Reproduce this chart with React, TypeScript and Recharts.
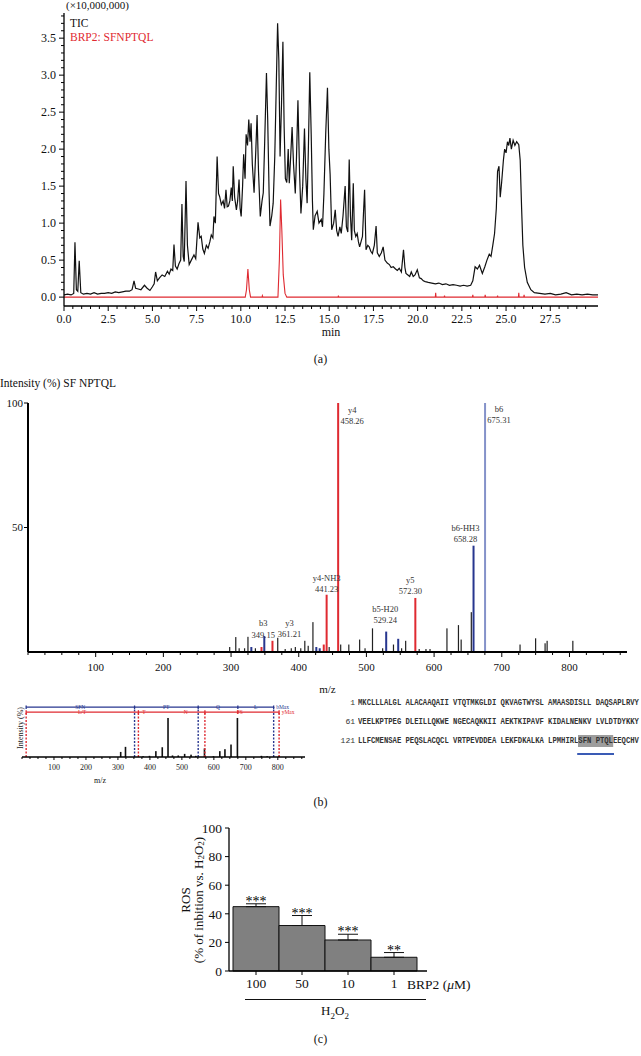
import React from "react"
import {
    LineChart,
    Line,
    XAxis,
    YAxis,
    ComposedChart,
    Bar,
    BarChart,
    ErrorBar,
    LabelList,
    ReferenceLine,
    ReferenceDot,
} from "recharts"

const SERIF = '"Liberation Serif", "DejaVu Serif", serif'
const MONO = '"Liberation Mono", "DejaVu Sans Mono", monospace'
const RED = "#df2a31"
const BLUE = "#27368f"
const PALE_BLUE = "#8592c9"

// (a) chromatogram, intensity in units of 10,000,000
const TIC_POINTS = [
    [0.0, 0.03], [0.2, 0.04], [0.4, 0.03], [0.55, 0.05], [0.62, 0.74], [0.7, 0.1], [0.78, 0.08], [0.86, 0.49],
    [0.95, 0.06], [1.1, 0.04], [1.3, 0.05], [1.5, 0.04], [1.7, 0.06], [1.9, 0.04], [2.1, 0.05], [2.3, 0.05],
    [2.5, 0.06], [2.7, 0.05], [2.9, 0.07], [3.1, 0.06], [3.3, 0.07], [3.5, 0.08], [3.7, 0.08], [3.85, 0.1],
    [3.96, 0.22], [4.05, 0.12], [4.2, 0.11], [4.35, 0.1], [4.55, 0.16], [4.7, 0.12], [4.86, 0.09], [5.0, 0.14],
    [5.1, 0.18], [5.18, 0.34], [5.28, 0.22], [5.4, 0.26], [5.55, 0.3], [5.7, 0.28], [5.85, 0.35], [5.95, 0.31],
    [6.05, 0.38], [6.15, 0.36], [6.22, 0.71], [6.3, 0.42], [6.4, 0.38], [6.5, 0.45], [6.6, 0.5], [6.67, 1.26],
    [6.74, 0.55], [6.8, 0.48], [6.9, 1.57], [6.98, 0.7], [7.08, 0.44], [7.2, 0.5], [7.35, 0.57], [7.45, 0.52],
    [7.58, 1.01], [7.68, 0.8], [7.76, 0.82], [7.85, 0.65], [7.94, 0.59], [8.05, 0.7], [8.15, 0.66], [8.25, 0.75],
    [8.33, 0.84], [8.42, 0.8], [8.48, 1.09], [8.56, 1.0], [8.66, 1.9], [8.74, 1.4], [8.8, 1.36], [8.9, 1.25],
    [9.0, 1.3], [9.08, 1.2], [9.16, 1.45], [9.23, 1.22], [9.3, 1.23], [9.38, 1.3], [9.46, 1.48], [9.52, 1.3],
    [9.57, 1.77], [9.65, 1.35], [9.75, 1.18], [9.82, 1.3], [9.9, 1.59], [9.96, 1.2], [10.02, 1.09], [10.1, 1.5],
    [10.16, 1.93], [10.24, 1.6], [10.3, 2.2], [10.38, 2.05], [10.45, 2.4], [10.52, 2.1], [10.58, 2.35], [10.65, 1.8],
    [10.75, 1.41], [10.85, 2.0], [10.92, 2.46], [11.0, 1.7], [11.1, 1.09], [11.2, 1.3], [11.27, 1.41], [11.35, 2.1],
    [11.45, 3.03], [11.52, 2.4], [11.6, 1.4], [11.65, 0.96], [11.75, 1.1], [11.83, 1.27], [11.92, 1.9], [12.0, 2.8],
    [12.08, 3.7], [12.15, 3.2], [12.22, 1.9], [12.3, 2.6], [12.38, 3.45], [12.45, 2.3], [12.52, 1.6], [12.6, 1.55],
    [12.68, 2.0], [12.74, 1.54], [12.82, 1.9], [12.9, 2.3], [12.98, 1.8], [13.08, 1.4], [13.15, 1.9], [13.23, 2.66],
    [13.32, 1.7], [13.4, 1.13], [13.5, 1.5], [13.6, 2.28], [13.68, 1.6], [13.75, 1.27], [13.82, 2.0], [13.9, 3.04],
    [13.98, 2.2], [14.05, 1.3], [14.1, 0.91], [14.2, 1.1], [14.32, 1.16], [14.42, 1.0], [14.55, 1.05], [14.62, 0.95],
    [14.7, 1.4], [14.8, 2.2], [14.9, 2.83], [14.98, 2.0], [15.05, 1.66], [15.14, 0.91], [15.25, 1.0], [15.34, 1.18],
    [15.42, 0.9], [15.5, 0.82], [15.6, 0.95], [15.68, 0.86], [15.78, 1.1], [15.9, 1.5], [15.97, 0.95], [16.05, 0.88],
    [16.13, 1.86], [16.2, 1.1], [16.27, 0.77], [16.36, 1.54], [16.42, 0.9], [16.5, 0.82], [16.58, 0.86], [16.65, 0.75],
    [16.72, 0.68], [16.8, 0.75], [16.88, 0.82], [16.95, 1.2], [17.0, 1.45], [17.08, 0.64], [17.18, 0.7], [17.26, 0.68],
    [17.35, 0.62], [17.44, 0.59], [17.55, 0.7], [17.65, 0.96], [17.72, 0.6], [17.83, 0.55], [17.95, 0.6], [18.05, 0.68],
    [18.15, 0.5], [18.28, 0.46], [18.4, 0.44], [18.5, 0.4], [18.62, 0.41], [18.75, 0.38], [18.85, 0.36], [18.96, 0.39],
    [19.08, 0.34], [19.2, 0.64], [19.28, 0.4], [19.34, 0.32], [19.45, 0.3], [19.55, 0.28], [19.64, 0.34], [19.75, 0.28],
    [19.85, 0.3], [19.98, 0.37], [20.1, 0.26], [20.2, 0.25], [20.32, 0.22], [20.43, 0.21], [20.6, 0.2], [20.8, 0.19],
    [21.0, 0.18], [21.2, 0.19], [21.4, 0.17], [21.6, 0.18], [21.8, 0.16], [22.0, 0.17], [22.2, 0.16], [22.4, 0.15],
    [22.6, 0.16], [22.8, 0.15], [23.0, 0.16], [23.12, 0.22], [23.25, 0.41], [23.38, 0.38], [23.5, 0.43], [23.6, 0.36],
    [23.66, 0.32], [23.8, 0.41], [23.92, 0.5], [24.05, 0.58], [24.15, 0.55], [24.25, 0.7], [24.35, 0.86], [24.45, 1.2],
    [24.52, 1.7], [24.6, 1.77], [24.67, 1.35], [24.75, 1.55], [24.85, 1.85], [24.92, 2.0], [25.0, 1.95], [25.08, 2.1],
    [25.15, 2.05], [25.22, 2.15], [25.3, 2.0], [25.4, 2.12], [25.5, 2.05], [25.6, 2.1], [25.72, 2.06], [25.8, 1.85],
    [25.88, 1.2], [25.95, 0.7], [26.05, 0.4], [26.2, 0.2], [26.4, 0.1], [26.6, 0.06], [26.9, 0.05], [27.2, 0.04],
    [27.5, 0.05], [27.8, 0.03], [28.1, 0.04], [28.4, 0.06], [28.7, 0.03], [29.0, 0.04], [29.3, 0.03], [29.6, 0.04],
    [29.9, 0.03], [30.2, 0.03],
]

const BRP2_POINTS = [
    [0.0, 0.0], [10.25, 0.0], [10.32, 0.1], [10.4, 0.38], [10.48, 0.1], [10.55, 0.0], [11.2, 0.0], [11.22, 0.02],
    [11.25, 0.0], [12.1, 0.0], [12.18, 0.5], [12.25, 1.32], [12.32, 0.9], [12.4, 0.3], [12.5, 0.05], [12.6, 0.0],
    [15.5, 0.0], [15.52, 0.02], [15.54, 0.0], [21.0, 0.0], [21.02, 0.06], [21.04, 0.0], [21.5, 0.0], [21.52, 0.02],
    [21.54, 0.0], [23.1, 0.0], [23.12, 0.03], [23.14, 0.0], [23.8, 0.0], [23.82, 0.03], [23.84, 0.0], [24.5, 0.0],
    [24.52, 0.02], [24.54, 0.0], [25.7, 0.0], [25.72, 0.06], [25.74, 0.0], [26.0, 0.0], [26.02, 0.03], [26.04, 0.0],
    [30.2, 0.0],
]

const TIME_TICKS = [
    0, 0.5, 1, 1.5, 2, 2.5, 3, 3.5, 4, 4.5, 5, 5.5, 6, 6.5, 7, 7.5, 8, 8.5, 9, 9.5, 10, 10.5, 11, 11.5, 12, 12.5,
    13, 13.5, 14, 14.5, 15, 15.5, 16, 16.5, 17, 17.5, 18, 18.5, 19, 19.5, 20, 20.5, 21, 21.5, 22, 22.5, 23, 23.5,
    24, 24.5, 25, 25.5, 26, 26.5, 27, 27.5, 28, 28.5, 29, 29.5,
]
const TIC_TICKS = [
    0, 0.1, 0.2, 0.3, 0.4, 0.5, 0.6, 0.7, 0.8, 0.9, 1, 1.1, 1.2, 1.3, 1.4, 1.5, 1.6, 1.7, 1.8, 1.9, 2, 2.1, 2.2,
    2.3, 2.4, 2.5, 2.6, 2.7, 2.8, 2.9, 3, 3.1, 3.2, 3.3, 3.4, 3.5, 3.6, 3.7, 3.8,
]

// (b) MS/MS spectrum of SFNPTQL
const BACKGROUND_PEAKS = [
    [298, 2], [307, 6], [312, 1.5], [320, 1.5], [325, 6.1], [336, 1.5], [369, 5.7], [380, 1.2], [389, 1.5],
    [395, 2], [403, 1.5], [409, 4.5], [414, 2.5], [421, 12], [445, 2], [462, 3], [474, 3], [490, 5], [498, 1.5],
    [509, 9.5], [524, 1.5], [540, 3], [552, 1.5], [558, 4.5], [578, 1.2], [588, 1.2], [594, 1.2], [619, 9.5],
    [636, 10.8], [640, 5], [655, 16], [727, 3], [750, 5.5], [764, 3.5], [767, 4.5], [805, 4.5],
]
const Y_IONS = [[345, 2], [361.21, 4.5], [437, 3], [441.23, 23], [458.26, 100], [572.3, 21.7]]
const B_IONS = [[330, 2], [349.15, 6.4], [426, 2], [431, 1.5], [529.24, 8.2], [547, 5.3], [658.28, 42.7], [675.31, 100]]
const LABELLED_MZ = [458.26, 675.31, 658.28, 441.23, 572.3, 529.24, 349.15, 361.21]
const LABELLED_NAME = ["y4", "b6", "b6-HH3", "y4-NH3", "y5", "b5-H20", "b3", "y3"]
const MZ_TICKS = [
    0, 25, 50, 75, 100, 125, 150, 175, 200, 225, 250, 275, 300, 325, 350, 375, 400, 425, 450, 475, 500, 525,
    550, 575, 600, 625, 650, 675, 700, 725, 750, 775, 800, 825, 850, 875,
]

// (b) inset: fragment ladder overview
const INSET_PEAKS = [
    [310, 13], [325, 26], [380, 2], [400, 3], [420, 15], [440, 25], [458, 100], [472, 4], [490, 4], [510, 8],
    [530, 6], [545, 3], [572, 22], [600, 2], [620, 15], [636, 20], [655, 32], [675, 100], [750, 3], [768, 2], [805, 3],
]
const BLUE_CUTS = [13, 352, 551, 675, 787]
const RED_CUTS = [13, 364, 572, 675, 804]
const BLUE_DASHED = [352, 551, 787]
const RED_DASHED = [13, 364, 572, 804]
const BLUE_TAGS = ["SFN", "PT", "Q", "L", "bMax"]
const BLUE_TAG_MZ = [182, 451, 613, 731, 815]
const RED_TAGS = ["L/T", "T", "N", "FS", "yMax"]
const RED_TAG_MZ = [188, 381, 512, 681, 832]
const BLUE_LEVEL = 128
const RED_LEVEL = 115

// (b) protein sequence
const SEQ_START = [1, 61, 121]
const SEQ_ROWS = [
    "MKCLLLALGL ALACAAQAII VTQTMKGLDI QKVAGTWYSL AMAASDISLL DAQSAPLRVY",
    "VEELKPTPEG DLEILLQKWE NGECAQKKII AEKTKIPAVF KIDALNENKV LVLDTDYKKY",
    "LLFCMENSAE PEQSLACQCL VRTPEVDDEA LEKFDKALKA LPMHIRLSFN PTQLEEQCHV",
]
const HIGHLIGHT = "SFN PTQL"

// (c) ROS inhibition
const DOSES = ["100", "50", "10", "1"]
const ROS = [45, 31.8, 21.7, 9.6]
const ROS_ERR = [2, 7, 4, 3.3]
const STARS = ["***", "***", "***", "**"]

const LABEL_OFFSET: Record<string, [number, number]> = {
    y4: [14, 7],
    b6: [14, 6],
    "b6-HH3": [-8, -18],
    "y4-NH3": [0, -17],
    y5: [-5, -18],
    "b5-H20": [-1, -23],
    b3: [-1, -13],
    y3: [17, -18],
}
const ION_COLOR: Record<string, string> = { k: "#222", y: RED, b: BLUE }

const ticData = TIC_POINTS.map(([t, v]) => ({ t, v }))
const brpData = BRP2_POINTS.map(([t, v]) => ({ t, v }))

const specData = [
    ...BACKGROUND_PEAKS.map(([mz, v]) => ({ mz, v, ion: "k" })),
    ...Y_IONS.map(([mz, v]) => ({ mz, v, ion: "y" })),
    ...B_IONS.map(([mz, v]) => ({ mz, v, ion: "b" })),
]
    .sort((a, b) => a.mz - b.mz)
    .map((d, idx) => {
        const li = LABELLED_MZ.indexOf(d.mz)
        return { ...d, idx, name: li >= 0 ? LABELLED_NAME[li] : "" }
    })

const insetData = INSET_PEAKS.map(([mz, v]) => ({ mz, v }))

const rosData = DOSES.map((dose, i) => ({
    dose,
    ros: ROS[i],
    err: [0, ROS_ERR[i]],
    idx: i,
}))

const isMultiple = (v: number, step: number) => Math.abs(v / step - Math.round(v / step)) < 1e-6

function TimeTick(p: any) {
    const v = p.payload.value
    const major = isMultiple(v, 2.5)
    return (
        <g>
            <line x1={p.x} x2={p.x} y1={p.y} y2={p.y + (major ? 5 : 3)} stroke="#000" />
            {major && (
                <text x={p.x} y={p.y + 17} textAnchor="middle" fontSize={12} fontFamily={SERIF} fill="#111">
                    {v.toFixed(1)}
                </text>
            )}
        </g>
    )
}

function TicTick(p: any) {
    const v = p.payload.value
    const major = isMultiple(v, 0.5)
    return (
        <g>
            <line x1={p.x} x2={p.x - (major ? 5 : 3)} y1={p.y} y2={p.y} stroke="#000" />
            {major && (
                <text x={p.x - 8} y={p.y} dy="0.35em" textAnchor="end" fontSize={12} fontFamily={SERIF} fill="#111">
                    {v.toFixed(1)}
                </text>
            )}
        </g>
    )
}

function MzTick(p: any) {
    const v = p.payload.value
    const major = isMultiple(v, 100) && v > 0
    return (
        <g>
            <line x1={p.x} x2={p.x} y1={p.y} y2={p.y + (major ? 5 : 3)} stroke="#000" />
            {major && (
                <text x={p.x} y={p.y + 19} textAnchor="middle" fontSize={11} fontFamily={SERIF} fill="#111">
                    {v}
                </text>
            )}
        </g>
    )
}

function PctTick(p: any) {
    const v = p.payload.value
    return (
        <g>
            <line x1={p.x} x2={p.x - 4} y1={p.y} y2={p.y} stroke="#000" />
            <text x={p.x - 5} y={p.y} dy="0.35em" textAnchor="end" fontSize={11} fontFamily={SERIF} fill="#111">
                {v}
            </text>
        </g>
    )
}

function InsetTick(p: any) {
    const v = p.payload.value
    const major = isMultiple(v, 100) && v > 0
    return (
        <g>
            <line x1={p.x} x2={p.x} y1={p.y} y2={p.y + (major ? 3 : 2)} stroke="#000" />
            {major && (
                <text x={p.x} y={p.y + 13} textAnchor="middle" fontSize={8} fontFamily={SERIF} fill="#222">
                    {v}
                </text>
            )}
        </g>
    )
}

function Spike(p: any) {
    const d = p.payload ?? p
    const color = d.name === "b6" ? PALE_BLUE : ION_COLOR[d.ion]
    const w = d.ion === "k" ? 1.2 : 2
    const cx = p.x + p.width / 2
    return <rect x={cx - w / 2} y={p.y} width={w} height={Math.max(p.height, 0)} fill={color} />
}

function InsetSpike(p: any) {
    const cx = p.x + p.width / 2
    return <rect x={cx - 0.8} y={p.y} width={1.6} height={Math.max(p.height, 0)} fill="#111" />
}

function PeakLabel(p: any) {
    const vb = p.viewBox ?? p
    const d = specData[p.value]
    if (!d || !d.name) return null
    const [dx, dy] = LABEL_OFFSET[d.name]
    const cx = vb.x + vb.width / 2 + dx
    return (
        <text textAnchor="middle" fontSize={8.5} fontFamily={SERIF} fill="#333">
            <tspan x={cx} y={vb.y + dy} dy="0.35em">{d.name}</tspan>
            <tspan x={cx} y={vb.y + dy + 11.5} dy="0.35em">{d.mz.toFixed(2)}</tspan>
        </text>
    )
}

function StarLabel(p: any) {
    const vb = p.viewBox ?? p
    const i = p.value
    const top = vb.y - (vb.height * ROS_ERR[i]) / ROS[i]
    return (
        <text x={vb.x + vb.width / 2} y={top + 2} textAnchor="middle" fontSize={14} fontFamily={SERIF} fill="#000">
            {STARS[i]}
        </text>
    )
}

const abs = (left: number, top: number, extra: React.CSSProperties = {}): React.CSSProperties => ({
    position: "absolute",
    left,
    top,
    ...extra,
})

export default function App() {
    return (
        <div
            style={{
                position: "absolute",
                left: 0,
                top: 0,
                width: 641,
                height: 1056,
                background: "#fff",
                fontFamily: SERIF,
                color: "#111",
                overflow: "hidden",
            }}
        >
            {/* (a) */}
            <div style={abs(0, 0)}>
                <LineChart width={641} height={345} margin={{ top: 13, right: 43, bottom: 0, left: 0 }}>
                    <XAxis
                        xAxisId="b"
                        dataKey="t"
                        type="number"
                        domain={[0, 30.2]}
                        ticks={TIME_TICKS}
                        interval={0}
                        tick={TimeTick}
                        tickLine={false}
                        tickSize={0}
                        tickMargin={0}
                        axisLine={{ stroke: "#000", strokeWidth: 1.3 }}
                        height={39}
                        allowDataOverflow
                    />
                    <XAxis
                        xAxisId="top"
                        orientation="top"
                        type="number"
                        domain={[0, 30.2]}
                        tick={false}
                        tickLine={false}
                        height={0}
                        axisLine={{ stroke: "#000", strokeWidth: 1.3 }}
                    />
                    <YAxis
                        yAxisId="l"
                        type="number"
                        domain={[-0.12, 3.84]}
                        ticks={TIC_TICKS}
                        interval={0}
                        tick={TicTick}
                        tickLine={false}
                        tickSize={0}
                        tickMargin={0}
                        width={64}
                        axisLine={{ stroke: "#000", strokeWidth: 1.3 }}
                        allowDataOverflow
                    />
                    <YAxis
                        yAxisId="r"
                        orientation="right"
                        type="number"
                        domain={[-0.12, 3.84]}
                        tick={false}
                        tickLine={false}
                        width={0}
                        axisLine={{ stroke: "#000", strokeWidth: 1.3 }}
                    />
                    <Line
                        xAxisId="b"
                        yAxisId="l"
                        data={ticData}
                        dataKey="v"
                        type="linear"
                        stroke="#111"
                        strokeWidth={1.2}
                        dot={false}
                        isAnimationActive={false}
                    />
                    <Line
                        xAxisId="b"
                        yAxisId="l"
                        data={brpData}
                        dataKey="v"
                        type="linear"
                        stroke={RED}
                        strokeWidth={1.1}
                        dot={false}
                        isAnimationActive={false}
                    />
                </LineChart>
            </div>
            <div style={abs(66, 0, { fontSize: 11, lineHeight: "11px" })}>(×10,000,000)</div>
            <div style={abs(70, 17, { fontSize: 11.5 })}>TIC</div>
            <div style={abs(70, 31, { fontSize: 11.5, color: RED })}>BRP2: SFNPTQL</div>
            <div style={abs(64, 325, { width: 534, textAlign: "center", fontSize: 12 })}>min</div>
            <div style={abs(0, 352, { width: 641, textAlign: "center", fontSize: 12 })}>(a)</div>

            {/* (b) spectrum */}
            <div style={abs(0, 377, { fontSize: 11.5, whiteSpace: "nowrap" })}>Intensity (%) SF NPTQL</div>
            <div style={abs(0, 380)}>
                <ComposedChart width={641} height={300} data={specData} margin={{ top: 23, right: 14, bottom: 0, left: 0 }}>
                    <XAxis
                        dataKey="mz"
                        type="number"
                        domain={[0, 885]}
                        ticks={MZ_TICKS}
                        interval={0}
                        tick={MzTick}
                        tickLine={false}
                        tickSize={0}
                        tickMargin={0}
                        axisLine={{ stroke: "#000", strokeWidth: 2.2 }}
                        height={28}
                        allowDataOverflow
                    />
                    <YAxis
                        type="number"
                        domain={[0, 100]}
                        ticks={[50, 100]}
                        interval={0}
                        tick={PctTick}
                        tickLine={false}
                        tickSize={0}
                        tickMargin={0}
                        width={28}
                        axisLine={{ stroke: "#000", strokeWidth: 2 }}
                        allowDataOverflow
                    />
                    <Bar dataKey="v" barSize={2} shape={Spike} isAnimationActive={false}>
                        <LabelList dataKey="idx" content={PeakLabel} />
                    </Bar>
                </ComposedChart>
            </div>
            <div style={abs(28, 683, { width: 599, textAlign: "center", fontSize: 11 })}>m/z</div>

            {/* (b) inset */}
            <svg style={abs(8, 700)} width={20} height={60}>
                <text
                    transform="translate(12,28) rotate(-90)"
                    textAnchor="middle"
                    dominantBaseline="central"
                    fontSize={8}
                    fontFamily={SERIF}
                    fill="#222"
                >
                    Intensity (%)
                </text>
            </svg>
            <div style={abs(0, 690)}>
                <ComposedChart width={320} height={89} data={insetData} margin={{ top: 15.5, right: 15, bottom: 0, left: 22 }}>
                    <XAxis
                        dataKey="mz"
                        type="number"
                        domain={[0, 885]}
                        ticks={MZ_TICKS}
                        interval={0}
                        tick={InsetTick}
                        tickLine={false}
                        tickSize={0}
                        tickMargin={0}
                        axisLine={{ stroke: "#000", strokeWidth: 1.6 }}
                        height={22}
                        allowDataOverflow
                    />
                    <YAxis hide type="number" domain={[0, 132]} allowDataOverflow />
                    <Bar dataKey="v" barSize={1.6} shape={InsetSpike} isAnimationActive={false} />
                    {RED_DASHED.map((mz) => (
                        <ReferenceLine
                            key={`rd${mz}`}
                            segment={[{ x: mz, y: 0 }, { x: mz, y: RED_LEVEL }]}
                            stroke={RED}
                            strokeWidth={1.4}
                            strokeDasharray="2 1.5"
                        />
                    ))}
                    {BLUE_DASHED.map((mz) => (
                        <ReferenceLine
                            key={`bd${mz}`}
                            segment={[{ x: mz, y: 0 }, { x: mz, y: BLUE_LEVEL }]}
                            stroke={BLUE}
                            strokeWidth={1.4}
                            strokeDasharray="2 1.5"
                        />
                    ))}
                    <ReferenceLine
                        segment={[{ x: BLUE_CUTS[0], y: BLUE_LEVEL }, { x: BLUE_CUTS[BLUE_CUTS.length - 1], y: BLUE_LEVEL }]}
                        stroke={BLUE}
                        strokeWidth={1.3}
                    />
                    <ReferenceLine
                        segment={[{ x: RED_CUTS[0], y: RED_LEVEL }, { x: RED_CUTS[RED_CUTS.length - 1], y: RED_LEVEL }]}
                        stroke={RED}
                        strokeWidth={1.3}
                    />
                    {BLUE_CUTS.map((mz) => (
                        <ReferenceLine
                            key={`bc${mz}`}
                            segment={[{ x: mz, y: BLUE_LEVEL - 5 }, { x: mz, y: BLUE_LEVEL + 4 }]}
                            stroke={BLUE}
                            strokeWidth={1.3}
                        />
                    ))}
                    {RED_CUTS.map((mz) => (
                        <ReferenceLine
                            key={`rc${mz}`}
                            segment={[{ x: mz, y: RED_LEVEL - 5 }, { x: mz, y: RED_LEVEL + 5 }]}
                            stroke={RED}
                            strokeWidth={1.3}
                        />
                    ))}
                    {BLUE_TAGS.map((t, i) => (
                        <ReferenceDot
                            key={`bt${t}`}
                            x={BLUE_TAG_MZ[i]}
                            y={BLUE_LEVEL}
                            r={0}
                            stroke="none"
                            label={{ value: t, position: "center", fill: BLUE, fontSize: 5.5, fontFamily: SERIF }}
                        />
                    ))}
                    {RED_TAGS.map((t, i) => (
                        <ReferenceDot
                            key={`rt${t}`}
                            x={RED_TAG_MZ[i]}
                            y={RED_LEVEL}
                            r={0}
                            stroke="none"
                            label={{ value: t, position: "center", fill: RED, fontSize: 5.5, fontFamily: SERIF }}
                        />
                    ))}
                </ComposedChart>
            </div>
            <div style={abs(60, 776, { width: 80, textAlign: "center", fontSize: 8 })}>m/z</div>

            {/* (b) sequence */}
            {SEQ_ROWS.map((row, r) => {
                const hi = row.indexOf(HIGHLIGHT)
                return (
                    <React.Fragment key={r}>
                        <div
                            style={abs(320, 698 + r * 19, {
                                width: 35,
                                textAlign: "right",
                                fontFamily: MONO,
                                fontSize: 8,
                                lineHeight: "10px",
                                color: "#333",
                            })}
                        >
                            {SEQ_START[r]}
                        </div>
                        <div
                            style={abs(358, 698 + r * 19, {
                                fontFamily: MONO,
                                fontSize: 9,
                                fontWeight: "bold",
                                lineHeight: "10px",
                                whiteSpace: "pre",
                                color: "#333",
                                transform: "scaleX(0.8)",
                                transformOrigin: "left center",
                            })}
                        >
                            {hi >= 0 ? (
                                <>
                                    {row.slice(0, hi)}
                                    <span style={{ position: "relative", background: "#9d9d9d", padding: "1px 0" }}>
                                        {HIGHLIGHT}
                                        <span
                                            style={{
                                                position: "absolute",
                                                left: -1,
                                                right: -1,
                                                bottom: -8,
                                                height: 2,
                                                background: "#3a5bb5",
                                            }}
                                        />
                                    </span>
                                    {row.slice(hi + HIGHLIGHT.length)}
                                </>
                            ) : (
                                row
                            )}
                        </div>
                    </React.Fragment>
                )
            })}
            <div style={abs(0, 795, { width: 641, textAlign: "center", fontSize: 12 })}>(b)</div>

            {/* (c) */}
            <svg style={abs(170, 815)} width={40} height={175}>
                <text
                    transform="translate(15,85) rotate(-90)"
                    textAnchor="middle"
                    dominantBaseline="central"
                    fontSize={13}
                    fontFamily={SERIF}
                    fill="#111"
                >
                    ROS
                </text>
                <text
                    transform="translate(28,85) rotate(-90)"
                    textAnchor="middle"
                    dominantBaseline="central"
                    fontSize={13}
                    fontFamily={SERIF}
                    fill="#111"
                >
                    (% of inbition vs. H<tspan dy={3} fontSize={9}>2</tspan>
                    <tspan dy={-3}>O</tspan>
                    <tspan dy={3} fontSize={9}>2</tspan>
                    <tspan dy={-3}>)</tspan>
                </text>
            </svg>
            <div style={abs(160, 815)}>
                <BarChart
                    width={280}
                    height={175}
                    data={rosData}
                    margin={{ top: 13, right: 13, bottom: 0, left: 0 }}
                    barCategoryGap={0}
                >
                    <XAxis
                        dataKey="dose"
                        padding={{ left: 4, right: 10 }}
                        tickSize={4}
                        tickMargin={3}
                        tick={{ fontSize: 13.5, fontFamily: SERIF, fill: "#111" }}
                        tickLine={{ stroke: "#000" }}
                        axisLine={{ stroke: "#000", strokeWidth: 1.3 }}
                        height={19}
                        interval={0}
                    />
                    <YAxis
                        type="number"
                        domain={[0, 100]}
                        ticks={[0, 20, 40, 60, 80, 100]}
                        interval={0}
                        tickSize={4}
                        tickMargin={3}
                        tick={{ fontSize: 13.5, fontFamily: SERIF, fill: "#111" }}
                        tickLine={{ stroke: "#000" }}
                        axisLine={{ stroke: "#000", strokeWidth: 1.3 }}
                        width={69}
                    />
                    <Bar dataKey="ros" fill="#808080" stroke="#111" strokeWidth={1} isAnimationActive={false}>
                        <ErrorBar dataKey="err" direction="y" width={10} stroke="#111" strokeWidth={1} />
                        <LabelList dataKey="idx" content={StarLabel} />
                    </Bar>
                </BarChart>
            </div>
            <div style={abs(407, 977, { fontSize: 13.5, whiteSpace: "nowrap" })}>
                BRP2 (<i>μ</i>M)
            </div>
            <div style={abs(245, 999, { width: 181, height: 1, background: "#111" })} />
            <div style={abs(305, 1003, { width: 60, textAlign: "center", fontSize: 13 })}>
                H<sub style={{ fontSize: 9 }}>2</sub>O<sub style={{ fontSize: 9 }}>2</sub>
            </div>
            <div style={abs(0, 1032, { width: 641, textAlign: "center", fontSize: 12 })}>(c)</div>
        </div>
    )
}
